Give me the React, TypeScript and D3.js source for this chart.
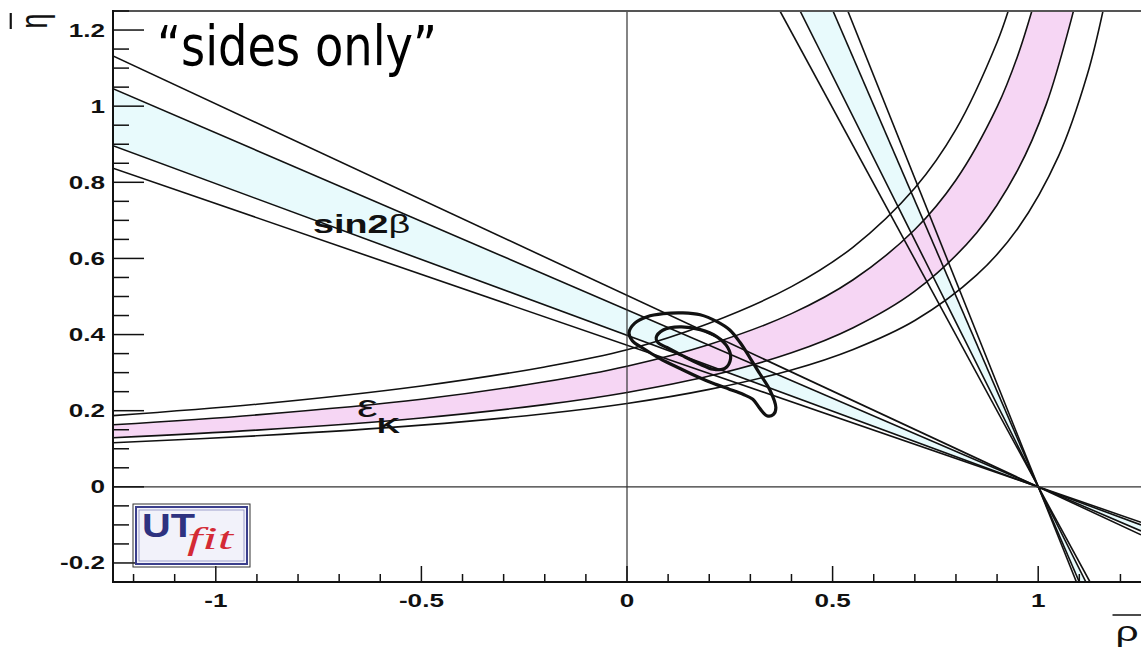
import React from 'react';
import * as d3 from 'd3';

// axis ticks
const xMajor = [-1, -0.5, 0, 0.5, 1];
const xMajorLabels = ['-1', '-0.5', '0', '0.5', '1'];
const yMajor = [-0.2, 0, 0.2, 0.4, 0.6, 0.8, 1, 1.2];
const yMajorLabels = ['-0.2', '0', '0.2', '0.4', '0.6', '0.8', '1', '1.2'];

// sin2β, first solution: [rho0, eta0, rho1, eta1] at the left and right edges (95%, 68%, 68%, 95%)
const sin2bFlat = [
  [-1.25, 1.132, 1.25, -0.126],
  [-1.25, 1.046, 1.25, -0.116],
  [-1.25, 0.896, 1.25, -0.1],
  [-1.25, 0.837, 1.25, -0.093],
];
// sin2β, second solution: at the top and bottom edges
const sin2bSteep = [
  [0.372, 1.25, 1.126, -0.25],
  [0.421, 1.25, 1.116, -0.25],
  [0.501, 1.25, 1.1, -0.25],
  [0.537, 1.25, 1.093, -0.25],
];

// εK curves [rho, eta]: outer upper, inner upper, inner lower, outer lower
const epsKOuterHi = [
  [-1.25, 0.187], [-0.9, 0.217], [-0.5, 0.265], [-0.2, 0.315], [0, 0.36], [0.2, 0.43],
  [0.4, 0.526], [0.55, 0.63], [0.7, 0.785], [0.8, 0.939], [0.9, 1.168], [0.93, 1.26],
];
const epsKInnerHi = [
  [-1.25, 0.163], [-0.9, 0.189], [-0.5, 0.23], [-0.2, 0.276], [0, 0.317], [0.2, 0.374],
  [0.4, 0.455], [0.55, 0.544], [0.7, 0.676], [0.8, 0.806], [0.9, 0.998], [0.95, 1.132], [0.99, 1.27],
];
const epsKInnerLo = [
  [-1.25, 0.129], [-0.9, 0.149], [-0.5, 0.181], [-0.2, 0.216], [0, 0.248], [0.2, 0.291],
  [0.4, 0.352], [0.55, 0.418], [0.7, 0.514], [0.85, 0.667], [0.95, 0.832], [1.02, 1.006],
  [1.08, 1.226], [1.09, 1.27],
];
const epsKOuterLo = [
  [-1.25, 0.116], [-0.9, 0.134], [-0.5, 0.162], [-0.2, 0.192], [0, 0.219], [0.2, 0.256],
  [0.4, 0.307], [0.55, 0.361], [0.7, 0.437], [0.85, 0.556], [0.95, 0.678], [1.05, 0.87],
  [1.12, 1.085], [1.16, 1.262],
];

// fit contours (95% and 68%)
const contour95 = [
  [0.005, 0.405], [0.019, 0.43], [0.049, 0.447], [0.088, 0.455], [0.136, 0.457], [0.178, 0.452],
  [0.219, 0.434], [0.25, 0.412], [0.275, 0.379], [0.299, 0.339], [0.323, 0.297], [0.348, 0.253],
  [0.362, 0.208], [0.356, 0.19], [0.34, 0.187], [0.323, 0.206], [0.306, 0.23], [0.282, 0.243],
  [0.25, 0.256], [0.209, 0.272], [0.17, 0.29], [0.129, 0.311], [0.08, 0.337], [0.039, 0.364],
  [0.013, 0.384],
];
const contour68 = [
  [0.071, 0.392], [0.088, 0.412], [0.129, 0.42], [0.178, 0.413], [0.219, 0.394], [0.245, 0.366],
  [0.252, 0.337], [0.238, 0.311], [0.209, 0.309], [0.178, 0.322], [0.136, 0.344], [0.097, 0.366],
  [0.075, 0.379],
];

const W = 1141;
const H = 653;
const SX = 1.45; // the picture is stretched sideways
const font = "'Liberation Sans', Arial, Helvetica, sans-serif";

export default function App() {
  const x = d3.scaleLinear().domain([-1.25, 1.25]).range([113, 1141]);
  const y = d3.scaleLinear().domain([-0.25, 1.25]).range([582, 11]);

  const curve = d3.line<number[]>().x(d => x(d[0])).y(d => y(d[1])).curve(d3.curveCatmullRom.alpha(0.5));
  const closed = d3.line<number[]>().x(d => x(d[0])).y(d => y(d[1])).curve(d3.curveCatmullRomClosed.alpha(0.5));
  const poly = d3.line<number[]>().x(d => x(d[0])).y(d => y(d[1]));

  const band = (a: number[], b: number[]) =>
    poly([[a[0], a[1]], [a[2], a[3]], [b[2], b[3]], [b[0], b[1]]]) + 'Z';

  const pinkPath = curve(epsKInnerHi) + 'L' + curve([...epsKInnerLo].reverse())!.slice(1) + 'Z';

  const xMinor = x.ticks(25);
  const yMinor = y.ticks(30);

  return (
    <svg width={W} height={H} style={{ position: 'absolute', left: 0, top: 0, background: '#fff' }}>
      <defs>
        <clipPath id="plot">
          <rect x={113} y={11} width={1028} height={571} />
        </clipPath>
      </defs>
      <rect width={W} height={H} fill="#fff" />

      <g clipPath="url(#plot)">
        <path d={band(sin2bFlat[1], sin2bFlat[2])} fill="#e8fafc" />
        <path d={band(sin2bSteep[1], sin2bSteep[2])} fill="#e8fafc" />
        <path d={pinkPath} fill="#f6d6f4" />

        {sin2bFlat.concat(sin2bSteep).map((l, i) => (
          <line key={'s' + i} x1={x(l[0])} y1={y(l[1])} x2={x(l[2])} y2={y(l[3])} stroke="#111" strokeWidth={1.6} />
        ))}
        {[epsKOuterHi, epsKInnerHi, epsKInnerLo, epsKOuterLo].map((c, i) => (
          <path key={'e' + i} d={curve(c)!} fill="none" stroke="#111" strokeWidth={1.6} />
        ))}

        <line x1={x(0)} x2={x(0)} y1={11} y2={582} stroke="#333" strokeWidth={1.2} />
        <line x1={113} x2={1141} y1={y(0)} y2={y(0)} stroke="#333" strokeWidth={1.2} />

        <path d={closed(contour95)!} fill="none" stroke="#111" strokeWidth={3.2} />
        <path d={closed(contour68)!} fill="none" stroke="#111" strokeWidth={3.2} />
      </g>

      {/* frame */}
      <line x1={113} x2={1141} y1={11} y2={11} stroke="#555" strokeWidth={2} />
      <line x1={113} x2={113} y1={10} y2={583} stroke="#111" strokeWidth={2} />
      <line x1={112} x2={1141} y1={582} y2={582} stroke="#111" strokeWidth={2} />

      {/* ticks */}
      {xMinor.map((v, i) => {
        const major = xMajor.some(m => Math.abs(m - v) < 1e-6);
        return <line key={'xt' + i} x1={x(v)} x2={x(v)} y1={582} y2={582 - (major ? 16 : 8)} stroke="#111" strokeWidth={1.5} />;
      })}
      {yMinor.map((v, i) => {
        const major = yMajor.some(m => Math.abs(m - v) < 1e-6);
        return <line key={'yt' + i} x1={113} x2={113 + (major ? 31 : 16)} y1={y(v)} y2={y(v)} stroke="#111" strokeWidth={1.5} />;
      })}

      {/* tick labels */}
      {xMajor.map((v, i) => (
        <text key={'xl' + i} transform={`translate(${x(v)},607) scale(${SX},1)`} textAnchor="middle"
          fontFamily={font} fontWeight="bold" fontSize={18} fill="#111">{xMajorLabels[i]}</text>
      ))}
      {yMajor.map((v, i) => (
        <text key={'yl' + i} transform={`translate(105,${y(v) + 6.5}) scale(${SX},1)`} textAnchor="end"
          fontFamily={font} fontWeight="bold" fontSize={18} fill="#111">{yMajorLabels[i]}</text>
      ))}

      {/* axis titles */}
      <g transform={`translate(47,21) scale(${SX},1) rotate(-90)`}>
        <text textAnchor="middle" fontFamily={font} fontSize={27} fill="#111">η</text>
        <line x1={-8} x2={8} y1={-25} y2={-25} stroke="#111" strokeWidth={1.5} />
      </g>
      <g transform={`translate(1127,641) scale(${SX},1)`}>
        <text textAnchor="middle" fontFamily={font} fontSize={28} fill="#111">ρ</text>
        <line x1={-10} x2={10} y1={-26} y2={-26} stroke="#111" strokeWidth={1.5} />
      </g>

      {/* band labels */}
      <text transform={`translate(313,233) scale(${SX},1)`} fontFamily={font} fontSize={26} fill="#111">
        <tspan fontWeight="bold">sin2</tspan><tspan>β</tspan>
      </text>
      <text transform={`translate(357,417) scale(${SX},1)`} fontFamily={font} fontSize={32} fill="#111">ε</text>
      <text transform={`translate(377,433) scale(${SX},1)`} fontFamily={font} fontSize={22} fontWeight="bold" fill="#111">K</text>

      <text x={157} y={65} fontFamily="'Comic Sans MS', 'DejaVu Sans', sans-serif" fontSize={56} fill="#000"
        textLength={280} lengthAdjust="spacingAndGlyphs">“sides only”</text>

      {/* UTfit logo */}
      <rect x={133} y={504} width={117} height={63} fill="none" stroke="#333" strokeWidth={1} />
      <rect x={136} y={507} width={111} height={57} fill="#f2f2fa" stroke="#3b3f8c" strokeWidth={2} />
      <rect x={139} y={510} width={105} height={51} fill="none" stroke="#8a8dc0" strokeWidth={0.8} />
      <text x={142} y={537} fontFamily={font} fontWeight="bold" fontSize={34} fill="#2e3280"
        textLength={53} lengthAdjust="spacingAndGlyphs">UT</text>
      <text x={187} y={549} fontFamily="'Liberation Serif', 'Times New Roman', serif" fontStyle="italic" fontSize={31}
        fill="#d42a35" textLength={46} lengthAdjust="spacingAndGlyphs">fit</text>
    </svg>
  );
}
